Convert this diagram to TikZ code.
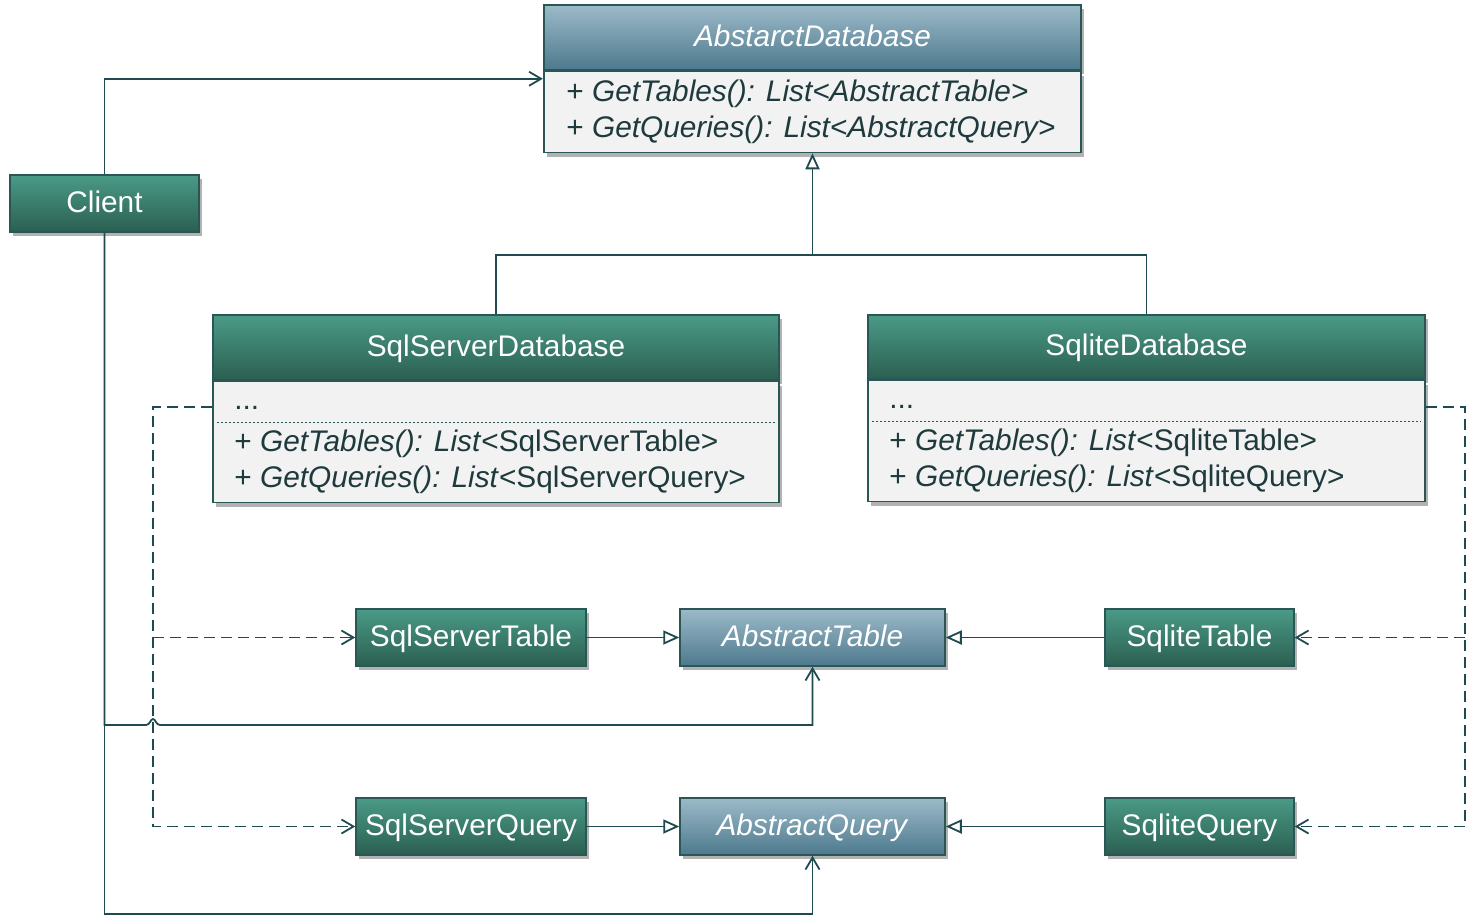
\documentclass[tikz,border=0pt]{standalone}
\usepackage{fontspec}
\setmainfont{Liberation Sans}
\usetikzlibrary{arrows.meta,shadows,fit}

\definecolor{umlline}{HTML}{1F4A4F}
\definecolor{umlborder}{HTML}{2A5656}
\definecolor{umltext}{HTML}{1E3A3C}
\definecolor{umlbody}{HTML}{F2F2F2}
\definecolor{greentop}{HTML}{4A9A87}
\definecolor{greenbot}{HTML}{2B5F50}
\definecolor{bluetop}{HTML}{9CBAC8}
\definecolor{bluebot}{HTML}{4D798E}

\begin{document}
\begin{tikzpicture}[x=0.5pt,y=0.5pt,yscale=-1,xscale=1,
    umlfont/.style={font=\fontsize{14.9pt}{18pt}\selectfont},
    shadowed/.style={drop shadow={shadow xshift=1.5pt,shadow yshift=-2pt,opacity=0.3,fill=black}},
    box/.style={umlfont,shadowed,draw=umlborder,line width=0.75pt,inner sep=0pt,text=white,
        text height=10.7pt,text depth=2pt,minimum height=28.5pt},
    greenbox/.style={box,top color=greentop,bottom color=greenbot},
    bluebox/.style={box,top color=bluetop,bottom color=bluebot},
    classbody/.style={shadowed,draw=umlborder,line width=0.75pt,fill=umlbody,inner sep=0pt,anchor=north},
    member/.style={umlfont,anchor=base west,inner sep=0pt,text=umltext},
    sepline/.style={draw=umlborder,line width=0.5pt,dash pattern=on 1pt off 1pt},
    link/.style={draw=umlline,line width=0.9pt},
    assoc/.style={link,-{Straight Barb[length=6pt,width=7pt]}},
    inherit/.style={link,-{Triangle[open,fill=white,length=8pt,width=7pt]}},
    depend/.style={link,dash pattern=on 5.5pt off 3pt},
    dependarrow/.style={depend,-{Straight Barb[length=6pt,width=7pt]}}
  ]
  \useasboundingbox (0,0) rectangle (1467,916);

  %Class [AbstarctDatabase]
  \node[bluebox,minimum width=268.5pt,minimum height=32.5pt] (adbh) at (812.5,37.5) {\textit{AbstarctDatabase}};
  \node[classbody,minimum width=268.5pt,minimum height=40.5pt] (adbb) at (adbh.south) {};
  \node[fit=(adbh)(adbb),inner sep=0pt] (adb) {};
  \node[member] (adbm1) at (566,101) {+ \textit{GetTables(): List<AbstractTable>}};
  \node[member] (adbm2) at (566,137) {+ \textit{GetQueries(): List<AbstractQuery>}};

  %Class [Client]
  \node[greenbox,minimum width=94.5pt] (client) at (104.5,203.5) {Client};

  %Class [SqlServerDatabase]
  \node[greenbox,minimum width=283pt,minimum height=32.5pt] (ssdbh) at (496,347.5) {SqlServerDatabase};
  \node[classbody,minimum width=283pt,minimum height=60.5pt] (ssdbb) at (ssdbh.south) {};
  \node[member] (ssdba) at (234,409) {...};
  \draw[sepline] (217,422) -- (775,422);
  \node[member] (ssdbm1) at (234,451) {+ \textit{GetTables(): List}<SqlServerTable>};
  \node[member] (ssdbm2) at (234,487) {+ \textit{GetQueries(): List}<SqlServerQuery>};

  %Class [SqliteDatabase]
  \node[greenbox,minimum width=278.5pt,minimum height=32pt] (sldbh) at (1146.5,347) {SqliteDatabase};
  \node[classbody,minimum width=278.5pt,minimum height=60.5pt] (sldbb) at (sldbh.south) {};
  \node[member] (sldba) at (889,408) {...};
  \draw[sepline] (872,421) -- (1421,421);
  \node[member] (sldbm1) at (889,450) {+ \textit{GetTables(): List}<SqliteTable>};
  \node[member] (sldbm2) at (889,486) {+ \textit{GetQueries(): List}<SqliteQuery>};

  %Tables row
  \node[greenbox,minimum width=115pt] (sstab) at (471,637.5) {SqlServerTable};
  \node[bluebox,minimum width=132.5pt] (atab) at (812.5,637.5) {\textit{AbstractTable}};
  \node[greenbox,minimum width=94.5pt] (sltab) at (1199.5,637.5) {SqliteTable};

  %Queries row
  \node[greenbox,minimum width=115pt] (ssqry) at (471,826.5) {SqlServerQuery};
  \node[bluebox,minimum width=132.5pt] (aqry) at (812.5,826.5) {\textit{AbstractQuery}};
  \node[greenbox,minimum width=94.5pt] (slqry) at (1199.5,826.5) {SqliteQuery};

  %Inheritance
  \coordinate (gen) at (812.5,255);
  \draw[link] (ssdbh.north) |- (gen);
  \draw[link] (sldbh.north) |- (gen);
  \draw[inherit] (gen) -- (adbb.south);
  \draw[inherit] (sstab) -- (atab);
  \draw[inherit] (sltab) -- (atab);
  \draw[inherit] (ssqry) -- (aqry);
  \draw[inherit] (slqry) -- (aqry);

  %Client associations
  \coordinate (cjt) at (104.5,725);
  \coordinate (cbot) at (104.5,914);
  \coordinate (hopl) at (146,725);
  \coordinate (hopr) at (160,725);
  \draw[assoc] (client.north) |- (adb.west);
  \draw[assoc] (client.south) -- (cjt) -- (hopl) .. controls (150,725) and (150.5,719) .. (153,719)
      .. controls (155.5,719) and (156,725) .. (hopr) -| (atab.south);
  \draw[assoc] (cjt) -- (cbot) -| (aqry.south);

  %Dependencies
  \coordinate (lbus) at (153,826.5);
  \coordinate (rbus) at (1465,826.5);
  \draw[dependarrow] (ssdbb.west |- 0,407) -| (lbus) -- (ssqry.west);
  \draw[dependarrow] (sstab.west -| lbus) -- (sstab.west);
  \draw[dependarrow] (sldbb.east |- 0,407) -| (rbus) -- (slqry.east);
  \draw[dependarrow] (sltab.east -| rbus) -- (sltab.east);
\end{tikzpicture}
\end{document}
